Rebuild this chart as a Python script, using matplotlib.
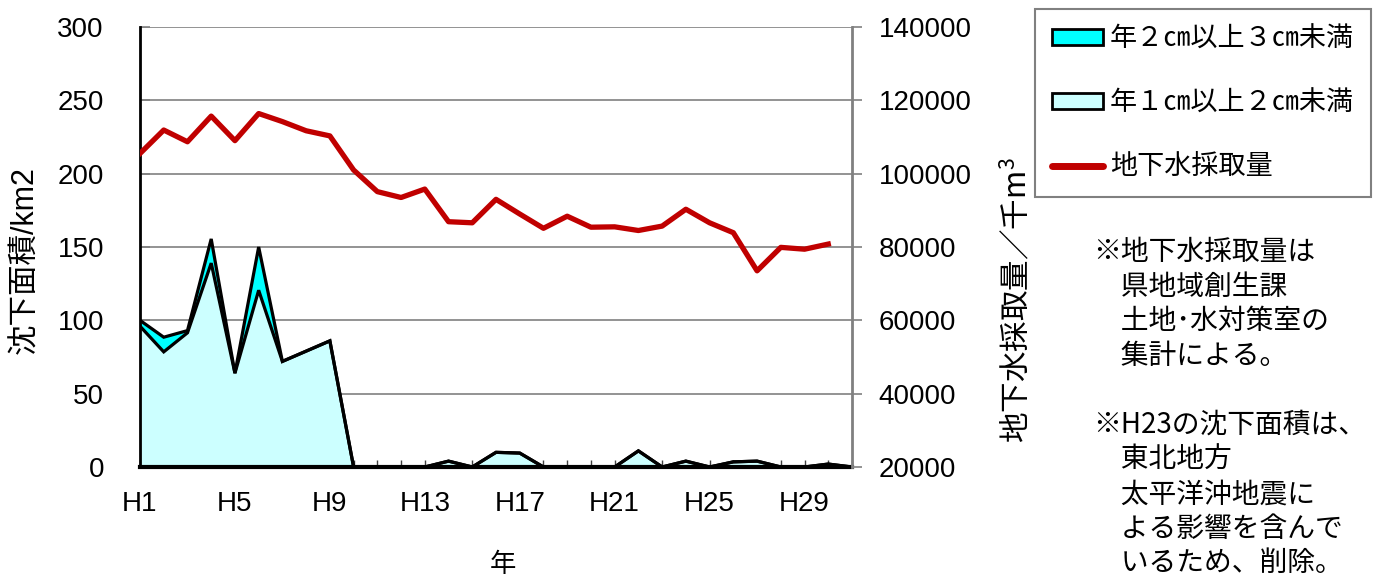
import matplotlib
matplotlib.use("Agg")
import matplotlib.pyplot as plt
from matplotlib.patches import Patch
from matplotlib.lines import Line2D

plt.rcParams['font.family'] = ['Liberation Sans', 'Noto Sans CJK JP', 'DejaVu Sans']
plt.rcParams['mathtext.fontset'] = 'custom'
plt.rcParams['mathtext.rm'] = 'Noto Sans CJK JP'

years = [f"H{i}" for i in range(1, 32)]
tick_labels = ["H1", "H5", "H9", "H13", "H17", "H21", "H25", "H29"]

# 年1cm以上2cm未満 (km2)
area_1_2 = [96, 78.5, 91.5, 139, 64, 120.5, 72, 79, 86, 0,
            0, 0, 0, 4, 0, 10, 9.5, 0, 0, 0,
            0, 11, 0, 4, 0, 3.5, 4, 0, 0, 2, 0]
# 年2cm以上3cm未満 (km2)
area_2_3 = [4, 10, 1.5, 16.5, 0, 29.5, 0, 0, 0, 0,
            0, 0, 0, 0, 0, 0, 0, 0, 0, 0,
            0, 0, 0, 0, 0, 0, 0, 0, 0, 0, 0]
# 地下水採取量 (千m3), H1-H30
groundwater = [105500, 111900, 108700, 115700, 109000, 116400, 114200, 111700, 110300, 101000,
               95100, 93500, 95800, 86900, 86600, 93000, 89000, 85100, 88400, 85400,
               85500, 84500, 85700, 90300, 86600, 83900, 73500, 79900, 79400, 80800]

fig = plt.figure(figsize=(13.75, 5.78), dpi=100)
ax = fig.add_axes([140/1375, 1-467/578, (852-140)/1375, (467-27)/578])

x = list(range(len(years)))
total = [a + b for a, b in zip(area_1_2, area_2_3)]

ax.fill_between(x, 0, area_1_2, facecolor='#CCFFFF', edgecolor='none', zorder=1)
ax.fill_between(x, area_1_2, total, facecolor='#00FFFF', edgecolor='none', zorder=1)
ax.plot(x, total, color='black', lw=2.3, zorder=2, solid_joinstyle='miter')
ax.plot(x, area_1_2, color='black', lw=2.3, zorder=2, solid_joinstyle='miter')

ax.set_xlim(0, len(years) - 1)
ax.set_ylim(0, 300)
ax.set_yticks(range(0, 301, 50))
ax.set_axisbelow(True)
ax.grid(axis='y', color='#808080', lw=1.2)
ax.set_xticks(x)
ax.set_xticklabels([y if y in tick_labels else '' for y in years])
ax.tick_params(axis='x', direction='in', length=5, width=1, color='#404040', pad=17, labelsize=20)
ax.tick_params(axis='y', direction='in', length=7, width=1.2, color='#808080', pad=26, labelsize=20)
for s in ['top', 'right']:
    ax.spines[s].set_visible(False)
ax.spines['left'].set_linewidth(2)
ax.spines['bottom'].set_linewidth(3)
ax.spines['left'].set_zorder(3)
ax.spines['bottom'].set_zorder(3)

ax2 = ax.twinx()
ax2.plot(x[:len(groundwater)], groundwater, color='#C00000', lw=3.8, zorder=3)
ax2.set_ylim(20000, 140000)
ax2.set_yticks(range(20000, 140001, 20000))
ax2.tick_params(axis='y', direction='out', length=7, width=1.2, color='#808080', pad=12, labelsize=20)
for s in ['top', 'left', 'bottom']:
    ax2.spines[s].set_visible(False)
ax2.spines['right'].set_color('#808080')
ax2.spines['right'].set_linewidth(2)

fig.text(25/1375, 1-260/578, '沈下面積/km2', rotation=90, ha='center', va='center', fontsize=22)
fig.text(1016/1375, 1-300/578, '地下水採取量／千m$^{3}$', rotation=90, ha='center', va='center',
         fontsize=22, family=['Noto Sans CJK JP', 'DejaVu Sans'])
fig.text(503/1375, 1-564/578, '年', ha='center', va='center', fontsize=19,
         family=['Noto Sans CJK JP', 'DejaVu Sans'])

handles = [Patch(facecolor='#00FFFF', edgecolor='black', lw=2),
           Patch(facecolor='#CCFFFF', edgecolor='black', lw=2),
           Line2D([0], [0], color='#C00000', lw=5, solid_capstyle='round')]
labels = ['年２㎝以上３㎝未満', '年１㎝以上２㎝未満', '地下水採取量']
leg = fig.legend(handles, labels, loc='upper left', bbox_to_anchor=(1035/1375, 1-9/578),
                 prop={'family': ['Noto Sans CJK JP', 'DejaVu Sans'], 'size': 19.5},
                 frameon=True, fancybox=False, edgecolor='#606060',
                 handlelength=1.9, handleheight=0.5, handletextpad=0.25,
                 labelspacing=1.36, borderpad=0.62, borderaxespad=0)
leg.get_frame().set_linewidth(1.5)

note = ("※地下水採取量は\n　県地域創生課\n　土地･水対策室の\n　集計による。\n\n"
        "※H23の沈下面積は、\n　東北地方\n　太平洋沖地震に\n　よる影響を含んで\n　いるため、削除。")
fig.text(1093/1375, 1-237/578, note, ha='left', va='top', fontsize=20, linespacing=1.2,
         family=['Noto Sans CJK JP', 'DejaVu Sans'])

fig.savefig('out.png', dpi=100)
